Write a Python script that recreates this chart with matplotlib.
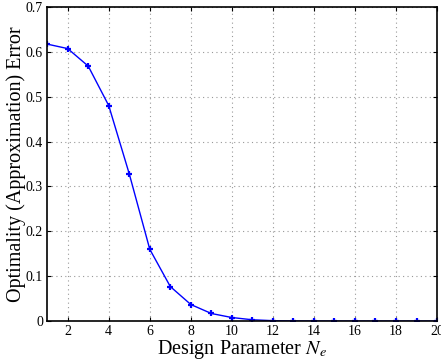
import matplotlib
matplotlib.use('Agg')
import matplotlib.pyplot as plt
import numpy as np

ne = np.arange(1, 21)
err = [0.617, 0.607, 0.568, 0.480, 0.328, 0.160, 0.077, 0.037, 0.017, 0.008,
       0.003, 0.001, 0.0003, 0.0001, 0.0, 0.0, 0.0, 0.0, 0.0, 0.0]
xticks = [2, 4, 6, 8, 10, 12, 14, 16, 18, 20]
yticks = [0, 0.1, 0.2, 0.3, 0.4, 0.5, 0.6, 0.7]

plt.rcParams['font.family'] = ['Liberation Serif', 'DejaVu Serif']
plt.rcParams['mathtext.fontset'] = 'stix'

fig = plt.figure(figsize=(4.41, 3.6), dpi=100)
ax = fig.add_axes([0.107, 0.108, 0.884, 0.873])
ax.plot(ne, err, '-+', color='blue', lw=1, ms=5, mew=1.6)
ax.set_xlim(1, 20)
ax.set_ylim(0, 0.7)
ax.set_xticks(xticks)
ax.set_yticks(yticks)
ax.set_yticklabels(['0', '0.1', '0.2', '0.3', '0.4', '0.5', '0.6', '0.7'])
ax.tick_params(direction='in', labelsize=10, length=3, pad=3,
               top=True, right=True)
ax.grid(True, linestyle=(0, (1, 3)), color='#999999', lw=0.8)
for s in ax.spines.values():
    s.set_linewidth(1.2)
ax.set_xlabel(r'Design Parameter $N_e$', fontsize=14.5, labelpad=0)
ax.set_ylabel('Optimality (Approximation) Error', fontsize=14.5, labelpad=0)
fig.savefig('out.png', dpi=100)
